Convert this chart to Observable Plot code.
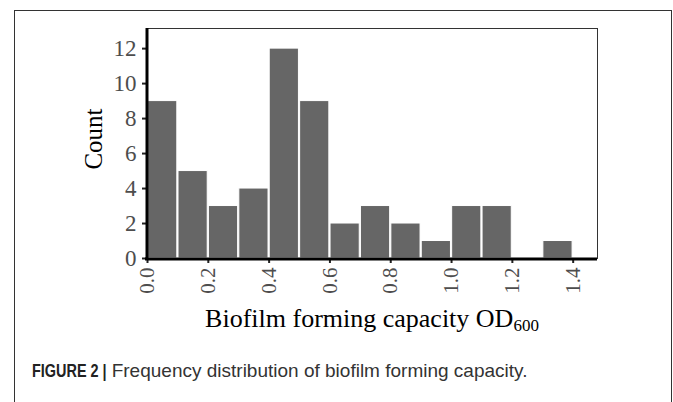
<!DOCTYPE html>
<html><head><meta charset="utf-8">
<script src="https://cdn.jsdelivr.net/npm/d3@7"></script>
<script src="https://cdn.jsdelivr.net/npm/@observablehq/plot@0.6"></script>
<style>
html,body{margin:0;padding:0;background:#fff;}
#wrap{position:relative;width:673px;height:402px;overflow:hidden;}
#border{position:absolute;left:14px;top:10px;width:658px;height:400px;border:1px solid #333;border-bottom:none;box-sizing:border-box;}
#chart{position:absolute;left:0;top:0;}
.cap{position:absolute;top:360.6px;font-family:"Liberation Sans",Arial,sans-serif;font-size:19px;line-height:19px;color:#333;white-space:nowrap;}
#capB{left:31.7px;font-weight:bold;color:#222;transform:scaleX(0.76);transform-origin:0 0;}
#capR{left:111.7px;}
</style></head>
<body><div id="wrap"><div id="border"></div><div id="chart"></div>
<div class="cap" id="capB">FIGURE 2 |</div><div class="cap" id="capR">Frequency distribution of biofilm forming capacity.</div></div>
<script>
const binStarts = [0.0, 0.1, 0.2, 0.3, 0.4, 0.5, 0.6, 0.7, 0.8, 0.9, 1.0, 1.1, 1.2, 1.3];
const binWidth = 0.1;
const counts = [9, 5, 3, 4, 12, 9, 2, 3, 2, 1, 3, 3, 0, 1];
const xTicks = [0.0, 0.2, 0.4, 0.6, 0.8, 1.0, 1.2, 1.4];
const yTicks = [0, 2, 4, 6, 8, 10, 12];
const xTitle = "Biofilm forming capacity OD";
const xTitleSub = "600";
const yTitle = "Count";

const bins = binStarts.map((x0, i) => ({x0, x1: x0 + binWidth, count: counts[i]})).filter(d => d.count > 0);

const W = 673, H = 345, mL = 147, mR = 76, mT = 28, mB = 87;
const plot = Plot.plot({
  width: W, height: H, marginLeft: mL, marginRight: mR, marginTop: mT, marginBottom: mB,
  style: {fontFamily: "'Liberation Serif','Times New Roman',serif", background: "transparent", overflow: "visible"},
  x: {domain: [0, 1.48]},
  y: {domain: [0, 13.15]},
  marks: [
    Plot.rectY(bins, {x1: "x0", x2: "x1", y: "count", fill: "#666666", stroke: "#fff", strokeWidth: 1, insetLeft: 0.6, insetRight: 0.6}),
    Plot.frame({stroke: "#333", strokeWidth: 1}),
    Plot.axisX({ticks: xTicks, tickFormat: d3.format(".1f"), tickRotate: -90, tickSize: 5, tickPadding: 4, fontSize: 21, fill: "#4d4d4d", stroke: "#222", strokeWidth: 2, label: null}),
    Plot.axisY({ticks: yTicks, tickSize: 5, tickPadding: 6, fontSize: 23, fill: "#4d4d4d", stroke: "#222", strokeWidth: 2, label: null}),
    Plot.ruleX([0], {stroke: "#000", strokeWidth: 3, dx: -0.5, insetBottom: -2}),
    Plot.ruleY([0], {stroke: "#000", strokeWidth: 3, dy: 0.5, insetLeft: -2})
  ]
});
const svg = d3.select(plot);
const t = svg.append("text")
  .attr("x", (mL + W - mR) / 2).attr("y", 327)
  .attr("text-anchor", "middle").attr("font-size", 26).attr("fill", "#000");
t.append("tspan").text(xTitle);
t.append("tspan").attr("font-size", 17).attr("dy", 4).text(xTitleSub);
svg.append("text")
  .attr("transform", "translate(102,139) rotate(-90)")
  .attr("text-anchor", "middle").attr("font-size", 25).attr("fill", "#000")
  .text(yTitle);
document.getElementById("chart").appendChild(plot);
</script>
</body></html>
